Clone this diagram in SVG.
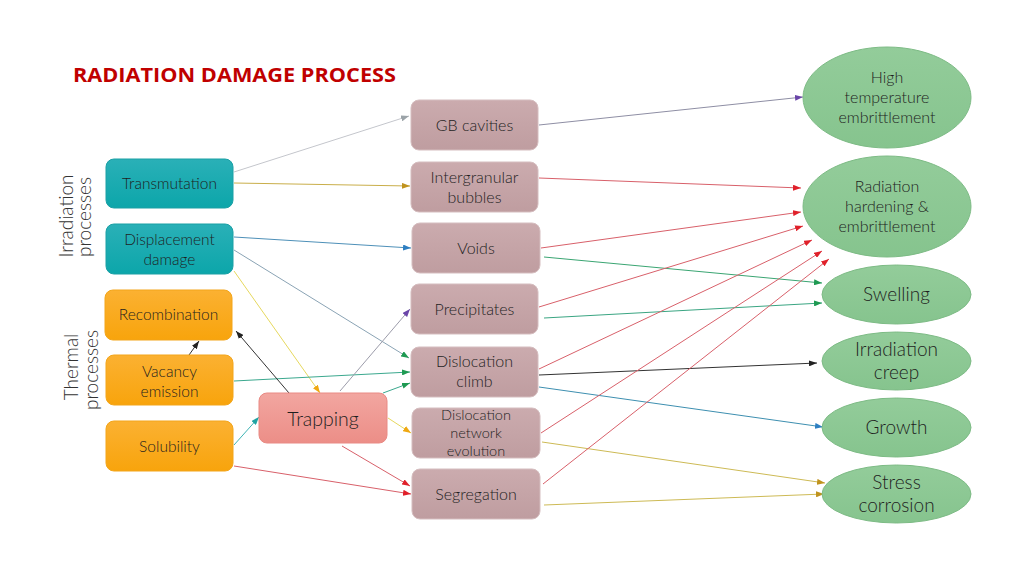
<svg xmlns="http://www.w3.org/2000/svg" width="1024" height="576" viewBox="0 0 1024 576">
<style>
.t{font-family:Lato,"Noto Sans","Liberation Sans",sans-serif;font-weight:300;fill:#1E1E1E;text-anchor:middle}
.side{font-family:Lato,"Noto Sans","Liberation Sans",sans-serif;font-weight:300;fill:#333333;text-anchor:middle;font-size:19px}
.teal{fill:url(#gTeal);stroke:#1AA0A5;stroke-width:1}
.orng{fill:url(#gOrng);stroke:#F3A51A;stroke-width:1}
.trap{fill:url(#gTrap);stroke:#E98A84;stroke-width:1}
.mauv{fill:url(#gMauv);stroke:#D5BDBF;stroke-width:1}
.ell{fill:url(#gEll);stroke:#7DBB85;stroke-width:1}
#connectors line{stroke-width:1;fill:none}
</style>
<defs>
<linearGradient id="gTeal" x1="0" y1="0" x2="0" y2="1"><stop offset="0" stop-color="#2AB0B7"/><stop offset="1" stop-color="#0CA6AA"/></linearGradient>
<linearGradient id="gOrng" x1="0" y1="0" x2="0" y2="1"><stop offset="0" stop-color="#FBB132"/><stop offset="1" stop-color="#F8A40C"/></linearGradient>
<linearGradient id="gTrap" x1="0" y1="0" x2="0" y2="1"><stop offset="0" stop-color="#F2A6A0"/><stop offset="1" stop-color="#EC8E87"/></linearGradient>
<linearGradient id="gMauv" x1="0" y1="0" x2="0" y2="1"><stop offset="0" stop-color="#CBABAE"/><stop offset="1" stop-color="#BF9DA0"/></linearGradient>
<linearGradient id="gEll" x1="0" y1="0" x2="0" y2="1"><stop offset="0" stop-color="#93CC9A"/><stop offset="1" stop-color="#86C48E"/></linearGradient>
<marker id="aGray" markerUnits="userSpaceOnUse" markerWidth="8" markerHeight="6" refX="8" refY="3" orient="auto"><path d="M0,0L8,3L0,6z" fill="#9BA3A8"/></marker>
<marker id="aGold" markerUnits="userSpaceOnUse" markerWidth="8" markerHeight="6" refX="8" refY="3" orient="auto"><path d="M0,0L8,3L0,6z" fill="#C0931E"/></marker>
<marker id="aBlue" markerUnits="userSpaceOnUse" markerWidth="8" markerHeight="6" refX="8" refY="3" orient="auto"><path d="M0,0L8,3L0,6z" fill="#2E7FC2"/></marker>
<marker id="aGreen" markerUnits="userSpaceOnUse" markerWidth="8" markerHeight="6" refX="8" refY="3" orient="auto"><path d="M0,0L8,3L0,6z" fill="#1E9A52"/></marker>
<marker id="aOrng" markerUnits="userSpaceOnUse" markerWidth="8" markerHeight="6" refX="8" refY="3" orient="auto"><path d="M0,0L8,3L0,6z" fill="#EFA812"/></marker>
<marker id="aPurp" markerUnits="userSpaceOnUse" markerWidth="8" markerHeight="6" refX="8" refY="3" orient="auto"><path d="M0,0L8,3L0,6z" fill="#6A45A8"/></marker>
<marker id="aBlack" markerUnits="userSpaceOnUse" markerWidth="8" markerHeight="6" refX="8" refY="3" orient="auto"><path d="M0,0L8,3L0,6z" fill="#222"/></marker>
<marker id="aTeal" markerUnits="userSpaceOnUse" markerWidth="8" markerHeight="6" refX="8" refY="3" orient="auto"><path d="M0,0L8,3L0,6z" fill="#1FA3A3"/></marker>
<marker id="aRed" markerUnits="userSpaceOnUse" markerWidth="8" markerHeight="6" refX="8" refY="3" orient="auto"><path d="M0,0L8,3L0,6z" fill="#E0202A"/></marker>
</defs>
<rect width="1024" height="576" fill="#FFFFFF"/>
<text x="73" y="82" font-family="'Open Sans','Liberation Sans',sans-serif" font-weight="bold" font-size="20" fill="#C00000" textLength="323" lengthAdjust="spacingAndGlyphs">RADIATION DAMAGE PROCESS</text>
<text class="side" transform="translate(73,216) rotate(-90)">Irradiation</text>
<text class="side" transform="translate(91,217) rotate(-90)">processes</text>
<text class="side" transform="translate(78,367) rotate(-90)">Thermal</text>
<text class="side" transform="translate(98,370) rotate(-90)">processes</text>
<g id="connectors">
<line x1="234" y1="172" x2="409" y2="116" stroke="#C4C6CC" marker-end="url(#aGray)"/>
<line x1="234" y1="183" x2="410" y2="186" stroke="#C9AE4A" marker-end="url(#aGold)"/>
<line x1="234" y1="237" x2="411" y2="248" stroke="#4E90B8" marker-end="url(#aBlue)"/>
<line x1="234" y1="250" x2="409" y2="358" stroke="#8AA3B4" marker-end="url(#aGreen)"/>
<line x1="234" y1="271" x2="320" y2="393" stroke="#E6D85E" marker-end="url(#aOrng)"/>
<line x1="234" y1="381" x2="410" y2="372" stroke="#3BA88E" marker-end="url(#aGreen)"/>
<line x1="383" y1="393" x2="410" y2="383" stroke="#3BA88E" marker-end="url(#aGreen)"/>
<line x1="340" y1="391" x2="410" y2="309" stroke="#9C9CAA" marker-end="url(#aPurp)"/>
<line x1="289" y1="393" x2="236" y2="331" stroke="#333" marker-end="url(#aBlack)"/>
<line x1="189" y1="355" x2="199" y2="341" stroke="#333" marker-end="url(#aBlack)"/>
<line x1="234" y1="445" x2="259" y2="417" stroke="#3FB4B4" marker-end="url(#aTeal)"/>
<line x1="234" y1="466" x2="411" y2="494" stroke="#D8606A" marker-end="url(#aRed)"/>
<line x1="342" y1="446" x2="410" y2="486" stroke="#D8606A" marker-end="url(#aRed)"/>
<line x1="388" y1="418" x2="411" y2="433" stroke="#E6D85E" marker-end="url(#aOrng)"/>
<line x1="539" y1="125" x2="803" y2="97" stroke="#8E8EA4" marker-end="url(#aPurp)"/>
<line x1="539" y1="178" x2="801" y2="188" stroke="#D8606A" marker-end="url(#aRed)"/>
<line x1="541" y1="248" x2="801" y2="212" stroke="#D8606A" marker-end="url(#aRed)"/>
<line x1="544" y1="257" x2="822" y2="283" stroke="#3AA572" marker-end="url(#aGreen)"/>
<line x1="539" y1="307" x2="803" y2="226" stroke="#D8606A" marker-end="url(#aRed)"/>
<line x1="544" y1="318" x2="822" y2="303" stroke="#3AA582" marker-end="url(#aGreen)"/>
<line x1="539" y1="369" x2="812" y2="240" stroke="#D8606A" marker-end="url(#aRed)"/>
<line x1="539" y1="375" x2="817" y2="363" stroke="#333" marker-end="url(#aBlack)"/>
<line x1="539" y1="387" x2="823" y2="427" stroke="#3D8FB0" marker-end="url(#aBlue)"/>
<line x1="541" y1="433" x2="822" y2="251" stroke="#D8606A" marker-end="url(#aRed)"/>
<line x1="542" y1="442" x2="825" y2="483" stroke="#CDBA55" marker-end="url(#aGold)"/>
<line x1="543" y1="484" x2="829" y2="259" stroke="#D8606A" marker-end="url(#aRed)"/>
<line x1="544" y1="505" x2="824" y2="494" stroke="#CDBA55" marker-end="url(#aGold)"/>
</g>
<g id="transmutation"><rect class="teal" x="106" y="159" width="127" height="49" rx="8"/><text class="t" x="169.5" y="189" font-size="15.5">Transmutation</text></g>
<g id="displacement"><rect class="teal" x="106" y="224" width="127" height="50" rx="8"/><text class="t" x="169.5" y="245" font-size="15.5">Displacement</text><text class="t" x="169.5" y="265" font-size="15.5">damage</text></g>
<g id="recombination"><rect class="orng" x="105" y="290" width="127" height="50" rx="8"/><text class="t" x="168.5" y="320" font-size="15.5">Recombination</text></g>
<g id="vacancy"><rect class="orng" x="106" y="355" width="127" height="50" rx="8"/><text class="t" x="169.5" y="377" font-size="15.5">Vacancy</text><text class="t" x="169.5" y="397" font-size="15.5">emission</text></g>
<g id="solubility"><rect class="orng" x="106" y="421" width="127" height="50" rx="8"/><text class="t" x="169.5" y="452" font-size="15.5">Solubility</text></g>
<g id="trapping"><rect class="trap" x="259" y="393" width="128" height="50" rx="8"/><text class="t" x="323" y="426" font-size="19.5">Trapping</text></g>
<g id="gb"><rect class="mauv" x="411" y="100" width="127" height="50" rx="8"/><text class="t" x="474.5" y="131" font-size="16">GB cavities</text></g>
<g id="bubbles"><rect class="mauv" x="411" y="162" width="127" height="50" rx="8"/><text class="t" x="474.5" y="183" font-size="16">Intergranular</text><text class="t" x="474.5" y="203" font-size="16">bubbles</text></g>
<g id="voids"><rect class="mauv" x="412" y="223" width="128" height="50" rx="8"/><text class="t" x="476" y="254" font-size="16">Voids</text></g>
<g id="precipitates"><rect class="mauv" x="411" y="284" width="127" height="50" rx="8"/><text class="t" x="474.5" y="315" font-size="16">Precipitates</text></g>
<g id="climb"><rect class="mauv" x="411" y="347" width="127" height="50" rx="8"/><text class="t" x="474.5" y="367" font-size="16">Dislocation</text><text class="t" x="474.5" y="387" font-size="16">climb</text></g>
<g id="network"><rect class="mauv" x="412" y="408" width="128" height="50" rx="8"/><text class="t" x="476" y="420" font-size="14.5">Dislocation</text><text class="t" x="476" y="438" font-size="14.5">network</text><text class="t" x="476" y="456" font-size="14.5">evolution</text></g>
<g id="segregation"><rect class="mauv" x="412" y="469" width="128" height="50" rx="8"/><text class="t" x="476" y="500" font-size="16">Segregation</text></g>
<g id="hightemp"><ellipse class="ell" cx="887" cy="97.5" rx="84" ry="50.5"/><text class="t" x="887" y="83" font-size="16">High</text><text class="t" x="887" y="103" font-size="16">temperature</text><text class="t" x="887" y="123" font-size="16">embrittlement</text></g>
<g id="hardening"><ellipse class="ell" cx="887" cy="206.5" rx="84" ry="50.5"/><text class="t" x="887" y="192" font-size="16">Radiation</text><text class="t" x="887" y="212" font-size="16">hardening &amp;</text><text class="t" x="887" y="232" font-size="16">embrittlement</text></g>
<g id="swelling"><ellipse class="ell" cx="896.5" cy="294.5" rx="74.5" ry="29.5"/><text class="t" x="896.5" y="301" font-size="19">Swelling</text></g>
<g id="creep"><ellipse class="ell" cx="896.5" cy="361" rx="74.5" ry="29"/><text class="t" x="896.5" y="356" font-size="19">Irradiation</text><text class="t" x="896.5" y="379" font-size="19">creep</text></g>
<g id="growth"><ellipse class="ell" cx="896.5" cy="427.5" rx="74.5" ry="29.5"/><text class="t" x="896.5" y="434" font-size="19">Growth</text></g>
<g id="stress"><ellipse class="ell" cx="896.5" cy="494" rx="74.5" ry="29"/><text class="t" x="896.5" y="489" font-size="19">Stress</text><text class="t" x="896.5" y="512" font-size="19">corrosion</text></g>
</svg>
